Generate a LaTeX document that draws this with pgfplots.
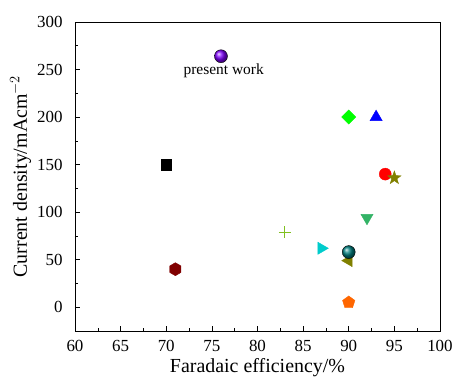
\documentclass[border=0pt]{standalone}
\usepackage{pgfplots}
\pgfplotsset{compat=1.18}
\usepackage{fontspec}
\setmainfont{Liberation Serif}
\definecolor{cpurple}{HTML}{8000FF}
\definecolor{cgreen}{HTML}{00FF00}
\definecolor{cblue}{HTML}{0000FF}
\definecolor{cred}{HTML}{FF0000}
\definecolor{colive}{HTML}{808000}
\definecolor{cdred}{HTML}{800000}
\definecolor{cyg}{HTML}{80C020}
\definecolor{ccyan}{HTML}{00CCCC}
\definecolor{cteal}{HTML}{008080}
\definecolor{corange}{HTML}{FF6600}
\definecolor{cmgreen}{HTML}{33B366}
\pgfdeclareplotmark{hexagon*}{%
  \pgfpathmoveto{\pgfqpointpolar{90}{\pgfplotmarksize}}%
  \pgfpathlineto{\pgfqpointpolar{150}{\pgfplotmarksize}}%
  \pgfpathlineto{\pgfqpointpolar{210}{\pgfplotmarksize}}%
  \pgfpathlineto{\pgfqpointpolar{270}{\pgfplotmarksize}}%
  \pgfpathlineto{\pgfqpointpolar{330}{\pgfplotmarksize}}%
  \pgfpathlineto{\pgfqpointpolar{30}{\pgfplotmarksize}}%
  \pgfpathclose\pgfusepathqfillstroke}
\pgfdeclareplotmark{fstar}{%
  \pgfpathmoveto{\pgfqpointpolar{90}{\pgfplotmarksize}}%
  \pgfpathlineto{\pgfqpointpolar{126}{0.4\pgfplotmarksize}}%
  \pgfpathlineto{\pgfqpointpolar{162}{\pgfplotmarksize}}%
  \pgfpathlineto{\pgfqpointpolar{198}{0.4\pgfplotmarksize}}%
  \pgfpathlineto{\pgfqpointpolar{234}{\pgfplotmarksize}}%
  \pgfpathlineto{\pgfqpointpolar{270}{0.4\pgfplotmarksize}}%
  \pgfpathlineto{\pgfqpointpolar{306}{\pgfplotmarksize}}%
  \pgfpathlineto{\pgfqpointpolar{342}{0.4\pgfplotmarksize}}%
  \pgfpathlineto{\pgfqpointpolar{18}{\pgfplotmarksize}}%
  \pgfpathlineto{\pgfqpointpolar{54}{0.4\pgfplotmarksize}}%
  \pgfpathclose\pgfusepathqfillstroke}
\begin{document}
\begin{tikzpicture}
\begin{axis}[
  name=ax,
  scale only axis,
  width=365bp, height=309bp,
  xmin=60, xmax=100, ymin=-25, ymax=300,
  xtick={60,65,...,100}, ytick={0,50,...,300},
  minor x tick num=1, minor y tick num=1,
  tick align=inside,
  xtick pos=bottom, ytick pos=left,
  major tick length=5bp, minor tick length=3bp,
  tick style={black, line width=0.6pt},
  axis line style={line width=0.8pt},
  /pgf/number format/assume math mode=true,
  xticklabel={\pgfmathprintnumber{\tick}},
  yticklabel={\pgfmathprintnumber{\tick}},
  ticklabel style={font=\fontsize{17}{20}\selectfont},
  yticklabel style={xshift=-9bp},
  xticklabel style={yshift=-6bp},
  xlabel={Faradaic efficiency/\%},
  ylabel={Current density/mAcm$^{-2}$},
  label style={font=\fontsize{20}{23}\selectfont},
  xlabel style={yshift=0bp},
  ylabel style={yshift=-1bp},
  only marks,
]
\addplot[mark=ball, mark size=6.5bp, mark options={ball color=cpurple}] coordinates {(76,264)};
\addplot[mark=square*, mark size=5bp, color=cgreen, mark options={rotate=45}] coordinates {(90,200)};
\addplot[mark=triangle*, mark size=7bp, color=cblue] coordinates {(93,200)};
\addplot[mark=*, mark size=6bp, color=cred] coordinates {(94,140)};
\addplot[mark=fstar, mark size=7bp, color=colive] coordinates {(95,136)};
\addplot[mark=square*, mark size=5.2bp, color=black] coordinates {(70,150)};
\addplot[mark=hexagon*, mark size=6.5bp, color=cdred] coordinates {(71,40)};
\addplot[mark=+, mark size=6bp, color=cyg, mark options={line width=0.8pt}] coordinates {(83,79)};
\addplot[mark=triangle*, mark size=7bp, color=ccyan, mark options={rotate=-90}] coordinates {(87,62)};
\addplot[mark=triangle*, mark size=7bp, color=colive, mark options={rotate=90}] coordinates {(90,49)};
\addplot[mark=ball, mark size=6.5bp, mark options={ball color=cteal}] coordinates {(90,58)};
\addplot[mark=pentagon*, mark size=6.5bp, color=corange] coordinates {(90,5)};
\addplot[mark=triangle*, mark size=7bp, color=cmgreen, mark options={rotate=180}] coordinates {(92,94)};
\node[font=\fontsize{15.5}{18}\selectfont] at (axis cs:76.3,249) {present work};
\end{axis}
\path ([shift={(-75bp,-49bp)}]ax.south west) rectangle ([shift={(16bp,22bp)}]ax.north east);
\end{tikzpicture}
\end{document}
